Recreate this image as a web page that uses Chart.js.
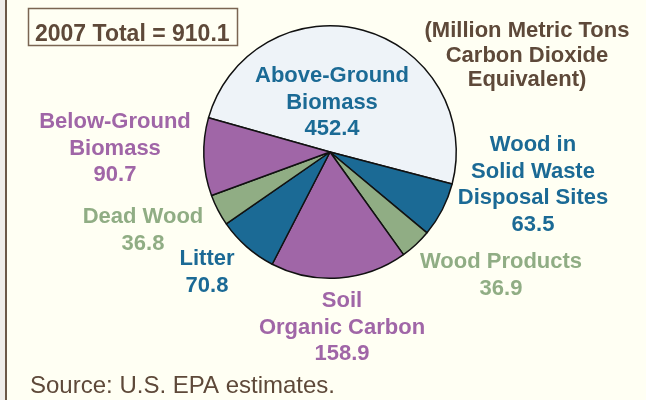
<!DOCTYPE html>
<html>
<head>
<meta charset="utf-8">
<script src="https://cdn.jsdelivr.net/npm/chart.js@4"></script>
<style>
  html, body { margin: 0; padding: 0; }
  body { width: 646px; height: 400px; background: #efede9; position: relative; overflow: hidden; }
  .frame { position: absolute; left: 5px; top: 0; width: 641px; height: 400px; background: #fffff3; border-left: 2px solid #6b5847; box-sizing: border-box; }
  .wrap { position: absolute; left: 0; top: 0; width: 646px; height: 400px; }
</style>
</head>
<body>
<div class="frame"></div>
<div class="wrap"><canvas id="pieChart" width="646" height="400"></canvas></div>
<script>
// Carbon stocks, 2007 (million metric tons CO2 eq.)
const categories = ['Above-Ground Biomass', 'Wood in Solid Waste Disposal Sites', 'Wood Products',
  'Soil Organic Carbon', 'Litter', 'Dead Wood', 'Below-Ground Biomass'];
const values = [452.4, 63.5, 36.9, 158.9, 70.8, 36.8, 90.7];
const totalLabel = '2007 Total = 910.1';

const BLUE = '#1b6a95';
const GREEN = '#90ad84';
const PURPLE = '#a066a7';
const PALE = '#eef3f8';
const BROWN = '#5e4939';

const fills = [PALE, BLUE, GREEN, PURPLE, BLUE, GREEN, PURPLE];
const textColors = [BLUE, BLUE, GREEN, PURPLE, BLUE, GREEN, PURPLE];

// label lines (name lines + value) and where they sit
const labelLines = [
  ['Above-Ground', 'Biomass'],
  ['Wood in', 'Solid Waste', 'Disposal Sites'],
  ['Wood Products'],
  ['Soil', 'Organic Carbon'],
  ['Litter'],
  ['Dead Wood'],
  ['Below-Ground', 'Biomass']
];
const labelPos = [
  { x: 332, y: 82 },
  { x: 533, y: 151 },
  { x: 501, y: 268 },
  { x: 342, y: 307 },
  { x: 207, y: 265 },
  { x: 143, y: 223 },
  { x: 115, y: 128 }
];
const LINE_H = 26.6;
const FONT = "'Liberation Sans', Arial, Helvetica, sans-serif";

const labelPlugin = {
  id: 'labels',
  afterDraw(chart) {
    const ctx = chart.ctx;
    ctx.save();
    ctx.textAlign = 'center';
    ctx.textBaseline = 'alphabetic';
    ctx.font = 'bold 22px ' + FONT;
    labelLines.forEach((lines, i) => {
      const all = lines.concat([values[i].toFixed(1)]);
      ctx.fillStyle = textColors[i];
      all.forEach((t, j) => ctx.fillText(t, labelPos[i].x, labelPos[i].y + j * LINE_H));
    });

    // total box
    ctx.fillStyle = BROWN;
    ctx.font = 'bold 23px ' + FONT;
    ctx.textAlign = 'left';
    ctx.fillText(totalLabel, 35, 41);
    ctx.strokeStyle = '#7a6552';
    ctx.lineWidth = 1.5;
    ctx.strokeRect(28.5, 8.5, 209, 37);

    // units note
    ctx.textAlign = 'center';
    ctx.font = 'bold 22px ' + FONT;
    ['(Million Metric Tons', 'Carbon Dioxide', 'Equivalent)'].forEach((t, j) => {
      ctx.fillText(t, 527, 37 + j * 24.5);
    });

    // source
    ctx.textAlign = 'left';
    ctx.font = '24px ' + FONT;
    ctx.fillText('Source: U.S. EPA estimates.', 30, 393);
    ctx.restore();
  }
};

new Chart(document.getElementById('pieChart').getContext('2d'), {
  type: 'pie',
  data: {
    labels: categories,
    datasets: [{
      data: values,
      backgroundColor: fills,
      borderColor: '#111111',
      borderWidth: 1.5,
      hoverOffset: 0
    }]
  },
  options: {
    responsive: false,
    animation: false,
    rotation: -74.3,
    layout: { padding: { left: 203, right: 189, top: 25, bottom: 121 } },
    plugins: {
      legend: { display: false },
      tooltip: { enabled: false }
    }
  },
  plugins: [labelPlugin]
});
</script>
</body>
</html>
